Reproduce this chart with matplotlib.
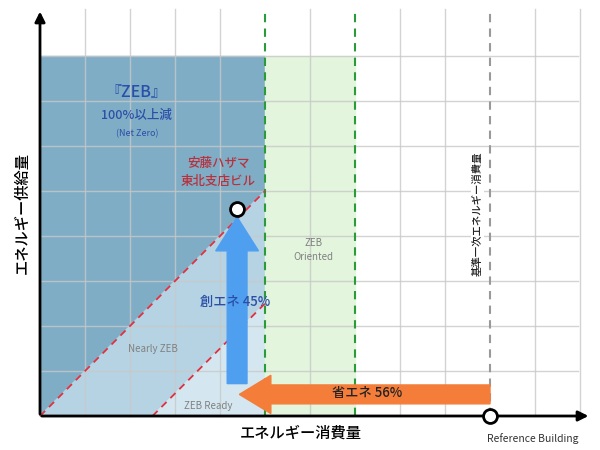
import matplotlib.pyplot as plt
from matplotlib.patches import Rectangle, Polygon, FancyArrow

plt.rcParams['font.family'] = ['Noto Sans CJK JP', 'DejaVu Sans']

# chart values (grid units)
grid_x = list(range(1, 13))
grid_y = list(range(1, 9))
zeb_limit = 5          # end of ZEB / Nearly / Ready region
oriented_limit = 7     # end of ZEB Oriented region
reference = 10         # reference building consumption
region_top = 8
building = (4.38, 4.6)   # 安藤ハザマ 東北支店ビル
saving_pct = 56
creation_pct = 45

fig = plt.figure(figsize=(6, 4.5), dpi=100)
ax = fig.add_axes([0, 0, 1, 1])
ax.set_xlim(-40 / 45, 560 / 45)
ax.set_ylim(-34 / 45, 416 / 45)
ax.axis('off')

# regions
ax.add_patch(Rectangle((0, 0), zeb_limit, region_top, color='#80adc6', zorder=1))
ax.add_patch(Polygon([(0, 0), (zeb_limit, zeb_limit), (zeb_limit, 0)], color='#b5d3e3', zorder=1))
ax.add_patch(Polygon([(zeb_limit / 2, 0), (zeb_limit, zeb_limit / 2), (zeb_limit, 0)], color='#d4e7f0', zorder=1))
ax.add_patch(Rectangle((zeb_limit, 0), oriented_limit - zeb_limit, region_top, color='#e3f5dc', zorder=1))

# grid
for gx in grid_x:
    if gx in (zeb_limit, oriented_limit, reference):
        continue
    ax.plot([gx, gx], [0, 9.05], color='#c8c8c8', lw=1, alpha=0.8, zorder=2)
for gy in grid_y:
    ax.plot([0, 11.95], [gy, gy], color='#c8c8c8', lw=1, alpha=0.8, zorder=2)

# boundary lines
for gx in (zeb_limit, oriented_limit):
    ax.plot([gx, gx], [0, 9.05], color='#2a9a3a', lw=1.5, ls=(0, (4, 3)), zorder=3)
ax.plot([reference, reference], [0, 9.05], color='#999999', lw=1.5, ls=(0, (4, 3)), zorder=3)
ax.plot([0, zeb_limit], [0, zeb_limit], color='#e03040', lw=1.3, ls=(0, (4, 3)), zorder=3)
ax.plot([zeb_limit / 2, zeb_limit], [0, zeb_limit / 2], color='#e03040', lw=1.3, ls=(0, (4, 3)), zorder=3)

# axes with arrows
ax.annotate('', xy=(12.25, 0), xytext=(-0.02, 0),
            arrowprops=dict(arrowstyle='-|>', color='black', lw=2, mutation_scale=15), zorder=5)
ax.annotate('', xy=(0, 9.05), xytext=(0, -0.02),
            arrowprops=dict(arrowstyle='-|>', color='black', lw=2, mutation_scale=15), zorder=5)

# arrows
ax.add_patch(FancyArrow(building[0], 0.72, 0, building[1] - 0.75 - 0.15, width=0.44,
                        head_width=0.95, head_length=0.75, length_includes_head=True,
                        color='#4f9ff0', zorder=4))
ax.add_patch(FancyArrow(reference, 0.48, building[0] - reference + 0.05, 0, width=0.42,
                        head_width=0.85, head_length=0.7, length_includes_head=True,
                        color='#f47d3a', zorder=4))

# points
ax.plot(*building, 'o', ms=10, mfc='white', mec='black', mew=2, zorder=6)
ax.plot(reference, 0, 'o', ms=10, mfc='white', mec='black', mew=2, zorder=6)

# texts
blue = '#2a4fa8'
ax.text(2.15, 7.2, '『ZEB』', color=blue, fontsize=11.5, ha='center', va='center', weight='medium', zorder=7)
ax.text(2.15, 6.67, '100%以上減', color=blue, fontsize=9, ha='center', va='center', weight='medium', zorder=7)
ax.text(2.15, 6.27, '(Net Zero)', color=blue, fontsize=6.5, ha='center', va='center', zorder=7)
ax.text(3.96, 5.62, '安藤ハザマ', color='#b8303c', fontsize=9, ha='center', va='center', weight='medium', zorder=7)
ax.text(3.96, 5.22, '東北支店ビル', color='#b8303c', fontsize=9, ha='center', va='center', weight='medium', zorder=7)
ax.text(6.07, 3.7, 'ZEB\nOriented', color='#808080', fontsize=7, ha='center', va='center',
        linespacing=1.5, zorder=7)
ax.text(4.33, 2.53, f'創エネ {creation_pct}%', color=blue, fontsize=9.5, ha='center',
        va='center', weight='medium', zorder=7)
ax.text(2.5, 1.5, 'Nearly ZEB', color='#808080', fontsize=7, ha='center', va='center', zorder=7)
ax.text(3.73, 0.22, 'ZEB Ready', color='#808080', fontsize=7, ha='center', va='center', zorder=7)
ax.text(7.27, 0.5, f'省エネ {saving_pct}%', color='#222222', fontsize=9.5, ha='center', va='center',
        weight='medium', zorder=7)
ax.text(9.73, 4.5, '基準一次エネルギー消費量', color='#222222', fontsize=7.5, rotation=90,
        ha='center', va='center', weight='medium', zorder=7,
        bbox=dict(facecolor='white', edgecolor='none', pad=1))
ax.text(5.8, -0.38, 'エネルギー消費量', fontsize=11, ha='center', va='center', weight='medium', zorder=7)
ax.text(-0.4, 4.5, 'エネルギー供給量', fontsize=11, rotation=90, ha='center', va='center',
        weight='medium', zorder=7)
ax.text(10.95, -0.5, 'Reference Building', fontsize=7.5, color='#333333', ha='center', va='center', zorder=7)

fig.savefig('out.png', dpi=100)
